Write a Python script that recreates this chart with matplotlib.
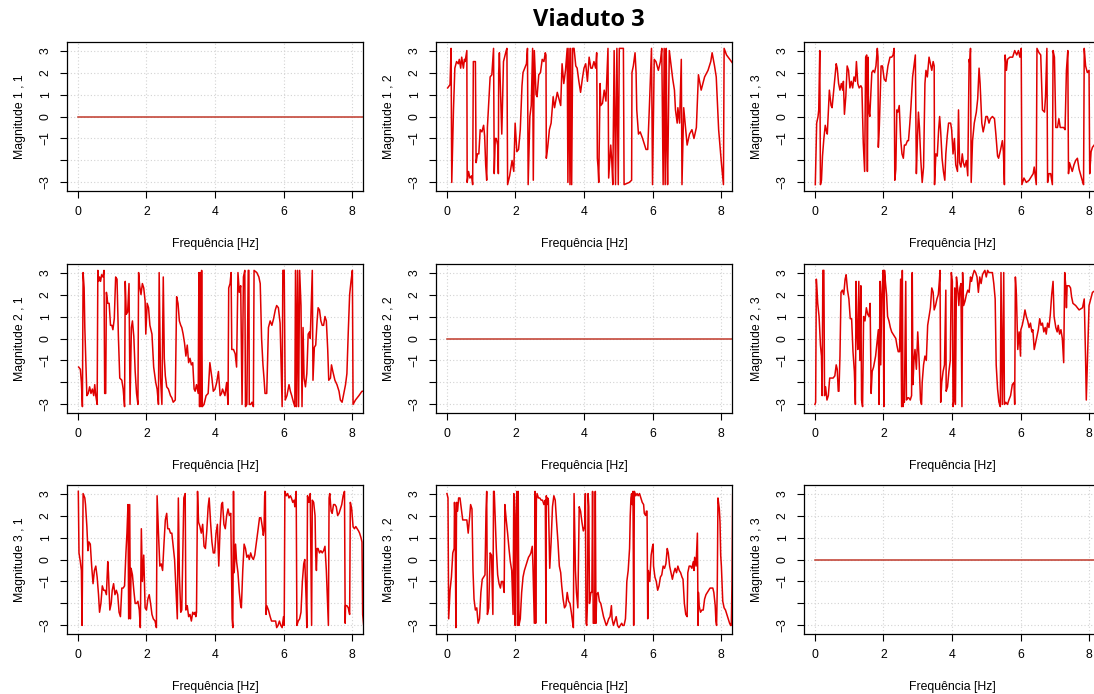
import matplotlib
matplotlib.use("Agg")
import matplotlib.pyplot as plt

plt.rcParams['font.family'] = ['Liberation Sans', 'DejaVu Sans']

title = "Viaduto 3"
xlabel = "Frequência [Hz]"
xticks = [0, 2, 4, 6, 8]
yticks = [-3, -2, -1, 0, 1, 2, 3]
ytick_labels = ["−3", "", "−1", "0", "1", "2", "3"]

# diagonal panels: constant zero phase
f_zero = [0.0, 8.4]
p_zero = [0.0, 0.0]

# panel 1,2
f12 = [0.02, 0.09, 0.12, 0.14, 0.19, 0.23, 0.28, 0.33, 0.36, 0.40, 0.43, 0.48, 0.51, 0.53, 0.58, 0.59,
       0.63, 0.67, 0.72, 0.75, 0.77, 0.83, 0.85, 0.89, 0.93, 0.97, 1.02, 1.07, 1.10, 1.13, 1.16, 1.18,
       1.26, 1.31, 1.36, 1.38, 1.41, 1.44, 1.48, 1.50, 1.51, 1.53, 1.60, 1.65, 1.73, 1.75, 1.77, 1.83,
       1.87, 1.90, 1.95, 1.99, 2.01, 2.04, 2.09, 2.14, 2.19, 2.22, 2.27, 2.32, 2.35, 2.37, 2.42, 2.46,
       2.50, 2.52, 2.55, 2.60, 2.63, 2.68, 2.73, 2.78, 2.83, 2.87, 2.89, 2.90, 2.94, 2.99, 3.04, 3.10,
       3.14, 3.22, 3.32, 3.36, 3.41, 3.46, 3.51, 3.53, 3.56, 3.59, 3.61, 3.64, 3.67, 3.71, 3.76, 3.80,
       3.85, 3.90, 3.95, 4.00, 4.05, 4.10, 4.15, 4.20, 4.24, 4.29, 4.34, 4.37, 4.39, 4.41, 4.43, 4.47,
       4.49, 4.54, 4.59, 4.64, 4.70, 4.72, 4.78, 4.81, 4.84, 4.88, 4.92, 4.96, 5.00, 5.03, 5.15, 5.17,
       5.32, 5.39, 5.40, 5.44, 5.49, 5.52, 5.54, 5.59, 5.64, 5.71, 5.81, 5.86, 5.91, 5.97, 6.00, 6.05,
       6.10, 6.17, 6.23, 6.27, 6.31, 6.34, 6.37, 6.40, 6.42, 6.44, 6.49, 6.59, 6.64, 6.67, 6.72, 6.74,
       6.79, 6.84, 6.86, 6.91, 7.01, 7.08, 7.15, 7.21, 7.28, 7.34, 7.42, 7.52, 7.62, 7.70, 7.74, 7.81,
       7.86, 7.93, 8.01, 8.07, 8.09, 8.16, 8.30, 8.35]
p12 = [1.3, 1.45, 3.1, -3.0, 0.3, 2.2, 2.5, 2.4, 2.6, 2.2, 2.7, 2.2, 2.6, 2.5, 3.0, -3.0,
       -2.5, -2.8, -2.7, -3.1, 2.5, 2.5, -2.1, -1.7, -1.7, -0.6, -0.7, -0.4, -0.9, -2.2, -2.9, -0.5,
       1.8, 1.9, 3.1, -2.6, -1.0, -1.0, -1.3, -2.6, 2.0, 2.9, -0.8, 2.5, 3.0, 3.1, -3.1, -2.7,
       -2.3, -2.0, -2.5, -0.3, -0.8, -1.6, -1.5, -0.6, 1.4, 2.0, 2.2, 2.4, 3.1, -3.1, 0.0, 0.5,
       3.1, -2.9, 3.0, 1.0, 0.9, 1.9, 2.0, 2.6, 2.5, 2.9, 2.8, -1.9, -1.4, -0.6, -0.3, 0.9,
       0.4, 1.1, 0.5, 2.4, 1.5, 2.1, 3.1, -3.0, 3.1, -3.1, 3.1, -3.1, 3.1, 3.1, 2.3, 2.2,
       1.6, 1.1, 1.7, 2.2, 2.4, 1.6, 2.7, 2.2, 2.2, 2.5, 2.2, 2.9, -1.9, -2.3, -3.0, 1.5,
       0.5, 0.6, 1.2, 0.7, 3.1, -2.8, -1.3, -2.0, -3.1, 3.0, -3.1, 3.1, -3.1, 3.1, 3.1, -3.1,
       -3.0, -2.9, 2.0, 2.3, 2.9, 2.0, 0.3, -0.8, -0.7, -1.0, -1.5, -1.5, 0.5, 3.1, -3.1, 2.6,
       2.5, 2.1, 2.5, 3.1, -3.1, 3.1, -3.1, 3.1, -1.3, -3.1, 3.0, 1.7, 1.2, 0.3, -0.3, 0.4,
       -0.3, 2.6, -3.1, 0.4, -1.3, -0.8, -0.6, -1.0, -0.5, 1.9, 1.2, 1.8, 2.1, 2.5, 2.9, 2.3,
       1.8, -0.6, -2.1, -3.1, 3.1, 2.8, 2.5, 2.4]

# panel 1,3
f13 = [0.01, 0.05, 0.09, 0.11, 0.14, 0.16, 0.19, 0.22, 0.26, 0.30, 0.34, 0.36, 0.39, 0.42, 0.47, 0.50,
       0.53, 0.57, 0.62, 0.65, 0.69, 0.73, 0.77, 0.81, 0.83, 0.86, 0.90, 0.94, 0.98, 1.02, 1.06, 1.10,
       1.14, 1.18, 1.21, 1.25, 1.29, 1.34, 1.37, 1.41, 1.45, 1.48, 1.51, 1.53, 1.55, 1.56, 1.58, 1.60,
       1.63, 1.66, 1.70, 1.74, 1.78, 1.82, 1.84, 1.85, 1.88, 1.93, 1.97, 2.02, 2.07, 2.13, 2.19, 2.24,
       2.28, 2.31, 2.33, 2.36, 2.39, 2.42, 2.46, 2.50, 2.54, 2.58, 2.61, 2.65, 2.70, 2.73, 2.77, 2.80,
       2.85, 2.93, 2.96, 2.99, 3.02, 3.05, 3.09, 3.13, 3.17, 3.21, 3.24, 3.28, 3.33, 3.37, 3.41, 3.45,
       3.48, 3.49, 3.53, 3.57, 3.61, 3.64, 3.67, 3.71, 3.75, 3.79, 3.82, 3.86, 3.90, 3.96, 3.99, 4.03,
       4.07, 4.11, 4.16, 4.19, 4.22, 4.26, 4.30, 4.33, 4.37, 4.42, 4.46, 4.50, 4.52, 4.54, 4.56, 4.60,
       4.65, 4.71, 4.75, 4.79, 4.82, 4.87, 4.91, 4.95, 4.99, 5.03, 5.08, 5.12, 5.18, 5.24, 5.28, 5.33,
       5.36, 5.42, 5.47, 5.50, 5.53, 5.55, 5.59, 5.62, 5.69, 5.77, 5.83, 5.89, 5.94, 5.98, 6.02, 6.04,
       6.10, 6.17, 6.25, 6.33, 6.37, 6.40, 6.46, 6.48, 6.54, 6.59, 6.64, 6.70, 6.73, 6.77, 6.79, 6.83,
       6.88, 6.93, 6.95, 6.99, 7.03, 7.08, 7.12, 7.16, 7.22, 7.26, 7.30, 7.34, 7.38, 7.40, 7.43, 7.47,
       7.51, 7.56, 7.61, 7.66, 7.71, 7.80, 7.84, 7.86, 7.90, 7.95, 8.00, 8.02, 8.06, 8.10, 8.20, 8.35]
p13 = [-3.1, -0.3, 0.0, 0.3, 3.0, -3.1, -2.9, -1.8, -1.0, -0.4, -0.7, -0.8, 0.2, 1.2, 0.5, 0.4,
       0.9, 1.6, 2.4, 2.2, 1.5, 1.2, 1.5, 1.2, 1.6, 0.1, 0.9, 2.3, 2.1, 1.3, 1.6, 1.3,
       1.8, 1.6, 2.5, 1.5, 1.3, 1.4, 1.3, -1.2, -2.5, 2.7, 2.8, -2.5, 2.7, 0.8, 0.2, 0.0,
       1.0, 2.0, 2.1, 2.0, 2.3, 3.1, 2.7, -1.4, -0.4, 2.3, 2.3, 1.7, 1.6, 2.3, 2.7, 2.7,
       2.8, 3.1, -2.9, -2.4, 0.3, 0.2, 0.5, -1.0, -1.7, -1.9, -1.3, -1.3, -1.1, -1.1, -0.3, 0.4,
       1.8, 2.8, -2.6, -1.1, 0.2, -0.5, -2.0, -3.0, -2.3, 1.5, 2.1, 1.8, 2.7, 2.4, 2.1, 2.5,
       2.3, -3.1, -1.7, -1.8, -0.6, 0.0, -0.7, -1.9, -2.5, -2.9, -1.7, -0.9, -0.3, -0.3, -0.6, -1.7,
       -1.0, -2.2, -2.5, 0.3, -2.1, -2.3, -1.7, -2.1, -2.3, -2.0, -2.7, 2.6, 2.4, 3.1, -3.0, -1.1,
       -0.3, 0.2, 0.8, 2.2, 1.5, -0.3, -0.7, -0.4, 0.0, 0.0, -0.3, -0.1, 0.0, -0.1, -0.8, -1.8,
       -1.9, -1.5, -1.1, -1.6, -3.1, 2.8, 2.1, 2.6, 2.7, 2.7, 3.0, 2.8, 3.0, 2.7, 3.1, -3.1,
       -2.8, -3.0, -2.9, -2.7, -2.6, -2.3, -3.1, 3.1, 2.9, 2.8, 0.3, 0.2, 0.9, 3.1, -3.0, -2.6,
       -2.6, -3.1, 3.0, 2.7, -0.5, -0.5, -0.1, -0.5, -0.5, -0.5, -0.6, 2.1, 3.0, -2.6, -2.1, -2.3,
       -2.5, -2.2, -2.0, -1.9, -2.4, -2.9, -3.1, 3.1, 2.3, 2.0, 2.1, -2.6, -1.6, -1.4, -1.2, -1.0]

# panel 2,1
f21 = [0.02, 0.07, 0.10, 0.13, 0.15, 0.18, 0.20, 0.23, 0.26, 0.30, 0.34, 0.38, 0.42, 0.46, 0.49, 0.52,
       0.56, 0.58, 0.60, 0.63, 0.66, 0.69, 0.73, 0.76, 0.78, 0.81, 0.83, 0.87, 0.91, 0.95, 0.99, 1.02,
       1.06, 1.10, 1.14, 1.18, 1.22, 1.28, 1.32, 1.36, 1.38, 1.41, 1.45, 1.49, 1.52, 1.56, 1.59, 1.63,
       1.67, 1.71, 1.75, 1.77, 1.80, 1.84, 1.88, 1.92, 1.96, 1.98, 2.02, 2.06, 2.10, 2.16, 2.21, 2.27,
       2.31, 2.35, 2.37, 2.41, 2.45, 2.49, 2.52, 2.55, 2.59, 2.64, 2.70, 2.74, 2.78, 2.84, 2.88, 2.92,
       2.96, 3.00, 3.03, 3.07, 3.11, 3.15, 3.19, 3.23, 3.27, 3.31, 3.35, 3.39, 3.42, 3.46, 3.51, 3.53,
       3.55, 3.57, 3.59, 3.61, 3.63, 3.68, 3.74, 3.80, 3.85, 3.91, 3.95, 4.00, 4.05, 4.10, 4.15, 4.19,
       4.22, 4.29, 4.34, 4.38, 4.40, 4.44, 4.47, 4.49, 4.54, 4.59, 4.63, 4.67, 4.71, 4.75, 4.79, 4.83,
       4.87, 4.89, 4.93, 4.97, 4.99, 5.00, 5.04, 5.08, 5.12, 5.14, 5.22, 5.28, 5.32, 5.36, 5.40, 5.43,
       5.46, 5.51, 5.56, 5.61, 5.66, 5.71, 5.76, 5.80, 5.85, 5.90, 5.93, 5.96, 5.98, 6.02, 6.05, 6.10,
       6.16, 6.20, 6.24, 6.29, 6.33, 6.35, 6.38, 6.41, 6.44, 6.47, 6.51, 6.54, 6.57, 6.60, 6.64, 6.68,
       6.72, 6.76, 6.78, 6.84, 6.86, 6.90, 6.94, 6.98, 7.01, 7.05, 7.09, 7.13, 7.17, 7.21, 7.25, 7.29,
       7.32, 7.37, 7.40, 7.44, 7.50, 7.56, 7.62, 7.66, 7.71, 7.76, 7.81, 7.85, 7.89, 7.93, 7.97, 8.01,
       8.03, 8.10, 8.20, 8.29, 8.36]
p21 = [-1.3, -1.4, -2.0, -3.1, 3.0, 2.3, 0.5, -1.0, -2.6, -2.5, -2.2, -2.5, -2.3, -2.6, -2.1, -2.6,
       -3.0, 3.1, 2.6, 2.8, 2.6, 2.9, 2.8, 3.1, -2.5, -2.5, 2.1, 1.6, 1.6, 0.6, 0.6, 0.4,
       0.9, 2.8, 2.7, 0.1, -1.8, -1.9, -2.3, -3.1, 2.6, 1.1, 1.2, 2.5, -3.0, 0.5, 0.8, 0.1,
       -1.5, -2.5, -3.0, 3.0, 2.4, 2.0, 2.5, 2.3, 1.7, 0.2, 1.6, 1.4, 0.6, 0.2, -1.3, -2.0,
       -2.3, -3.0, 3.0, -1.8, -3.0, 2.8, -0.9, -1.7, -2.2, -2.3, -2.6, -2.7, -2.9, -2.8, 1.9, 1.6,
       0.8, 0.6, 0.5, 0.2, -0.2, -0.8, -0.3, -1.1, -0.9, -1.2, -1.1, -2.3, -2.4, -2.1, -2.5, 3.0,
       -3.1, 3.0, -3.1, 3.1, -3.1, -3.0, -2.6, -2.5, -1.1, -1.8, -2.4, -2.3, -2.0, -1.5, -2.6, -2.5,
       -2.3, -2.6, -2.0, -3.0, 2.3, 2.5, 3.0, -0.5, -0.5, -0.7, -1.3, 3.0, 2.1, 2.4, -3.0, 2.8,
       3.1, -3.1, -3.0, 3.1, 3.1, -3.0, -3.0, -2.9, -3.1, 3.1, 3.0, 2.8, 2.5, 0.0, -1.2, -1.8,
       -2.5, -2.5, 0.5, 0.8, 0.6, 0.9, 1.3, 1.5, 1.4, 0.7, -1.3, -3.1, 3.1, 3.1, -2.8, -2.6,
       -2.1, -2.4, -2.6, -2.9, -3.1, 3.1, -3.1, 3.1, -3.1, 3.1, 1.5, -3.1, 0.5, -1.8, -2.2, -1.6,
       0.2, 0.3, 0.0, 3.1, -1.9, -0.4, -0.3, 0.8, 1.4, 1.3, 0.8, 0.6, 0.6, 1.0, 0.8, -0.5,
       -1.9, -1.8, -1.2, -1.5, -1.9, -2.1, -2.4, -2.8, -2.9, -2.5, -2.1, -1.6, 0.3, 2.0, 2.6, 3.1,
       -3.0, -2.8, -2.6, -2.4, -2.4]

# panel 2,3
f23 = [0.00, 0.02, 0.04, 0.06, 0.08, 0.12, 0.16, 0.19, 0.21, 0.23, 0.26, 0.28, 0.31, 0.35, 0.39, 0.43,
       0.47, 0.53, 0.58, 0.62, 0.65, 0.68, 0.70, 0.73, 0.76, 0.80, 0.84, 0.88, 0.91, 0.95, 0.99, 1.03,
       1.07, 1.11, 1.15, 1.18, 1.20, 1.22, 1.25, 1.28, 1.31, 1.34, 1.36, 1.39, 1.42, 1.46, 1.50, 1.54,
       1.58, 1.61, 1.64, 1.67, 1.71, 1.77, 1.81, 1.85, 1.87, 1.90, 1.92, 1.95, 1.97, 1.99, 2.01, 2.03,
       2.06, 2.09, 2.12, 2.16, 2.20, 2.24, 2.28, 2.32, 2.36, 2.39, 2.43, 2.47, 2.50, 2.53, 2.55, 2.57,
       2.59, 2.61, 2.65, 2.67, 2.71, 2.74, 2.78, 2.82, 2.84, 2.86, 2.89, 2.92, 2.96, 3.00, 3.04, 3.08,
       3.11, 3.13, 3.17, 3.21, 3.25, 3.29, 3.33, 3.37, 3.41, 3.45, 3.48, 3.52, 3.56, 3.60, 3.63, 3.65,
       3.67, 3.70, 3.74, 3.78, 3.82, 3.83, 3.87, 3.91, 3.95, 3.98, 4.01, 4.03, 4.06, 4.08, 4.10, 4.13,
       4.17, 4.20, 4.23, 4.26, 4.29, 4.31, 4.34, 4.38, 4.42, 4.46, 4.50, 4.54, 4.57, 4.61, 4.65, 4.69,
       4.73, 4.77, 4.81, 4.85, 4.89, 4.92, 4.96, 5.00, 5.04, 5.08, 5.13, 5.18, 5.22, 5.26, 5.29, 5.33,
       5.37, 5.41, 5.43, 5.47, 5.51, 5.53, 5.57, 5.62, 5.66, 5.71, 5.76, 5.81, 5.83, 5.85, 5.88, 5.92,
       5.96, 6.00, 6.01, 6.05, 6.09, 6.13, 6.17, 6.21, 6.25, 6.29, 6.33, 6.36, 6.40, 6.44, 6.48, 6.52,
       6.56, 6.60, 6.64, 6.68, 6.72, 6.75, 6.79, 6.83, 6.87, 6.91, 6.95, 6.98, 7.03, 7.07, 7.10, 7.14,
       7.18, 7.22, 7.26, 7.29, 7.32, 7.34, 7.36, 7.42, 7.46, 7.49, 7.53, 7.61, 7.71, 7.81, 7.86, 7.90,
       7.92, 8.00, 8.05, 8.10, 8.20, 8.35]
p23 = [-3.0, -2.9, 2.7, 2.2, 1.6, 1.0, -0.3, -0.8, -2.6, 3.1, 3.1, -2.6, -2.2, -2.8, -2.6, -1.8,
       -1.8, -1.8, -1.7, -1.2, -1.4, -2.4, -2.4, -0.8, 2.1, 2.2, 2.0, 2.7, 2.9, 2.2, 1.8, 0.9,
       0.9, -0.6, -1.5, -3.0, 2.6, 0.6, -0.5, 2.6, -1.0, 2.4, -2.8, -3.1, 1.0, 0.8, 1.4, 1.1,
       1.0, 1.6, -2.5, -1.5, -1.3, -0.8, -0.2, 0.4, -3.0, 2.6, -1.2, 2.0, 2.5, 3.1, -3.1, 3.1,
       2.5, 2.0, 1.0, 0.8, 0.5, 0.3, 0.2, 0.1, 0.0, -0.3, -0.6, -0.6, 2.7, -3.1, 3.1, -3.1,
       -2.8, -2.9, 2.6, -2.8, -2.7, -2.7, -2.8, -2.6, 3.0, -2.1, -1.0, -0.5, -1.4, 0.3, -1.0, -2.8,
       -3.0, -2.0, -1.2, -0.8, -1.0, 0.6, 1.0, 1.4, 2.3, 2.1, 1.3, 1.5, 1.8, 2.0, 2.6, 3.1,
       -2.9, -2.0, -1.5, -1.2, 2.2, -2.4, -2.2, -1.5, -1.0, 3.0, 2.6, -3.1, -2.8, 2.3, -3.0, 2.8,
       2.2, 1.5, 2.3, 2.5, -3.1, 3.0, 1.5, 1.7, 2.0, 2.2, 2.1, 2.8, 2.6, 2.9, 3.1, 3.0,
       2.8, 2.1, 2.8, 2.5, 2.9, 3.0, 3.1, 2.8, 3.1, 3.0, 3.0, 3.0, 2.5, 1.8, -1.2, -2.3,
       -2.9, -3.1, 3.0, -3.0, 3.0, -3.0, -2.9, -3.0, -2.8, -2.6, -2.1, -2.0, -3.0, 2.8, 2.0, -0.5,
       0.3, -0.8, 0.4, 0.6, 0.9, 1.3, 1.0, 0.8, 0.5, 0.7, 0.3, 0.4, -0.5, -0.2, 0.1, 0.4,
       0.9, 0.6, 0.7, 0.3, 0.5, 0.2, 0.7, 0.5, 1.1, 2.0, 2.6, 1.0, 0.5, 0.3, 0.6, 0.2,
       0.4, 0.0, -1.1, 3.0, 2.4, 1.4, 2.4, 2.4, 2.3, 1.9, 1.6, 1.5, 1.3, 1.4, 1.8, -1.0,
       -2.8, 1.5, 1.8, 2.1, 2.2, 2.0]

# panel 3,1
f31 = [0.01, 0.03, 0.07, 0.10, 0.12, 0.15, 0.20, 0.22, 0.26, 0.29, 0.32, 0.36, 0.40, 0.44, 0.48, 0.52,
       0.56, 0.60, 0.63, 0.67, 0.71, 0.75, 0.79, 0.83, 0.87, 0.89, 0.93, 0.97, 1.00, 1.04, 1.08, 1.12,
       1.16, 1.20, 1.24, 1.28, 1.32, 1.36, 1.40, 1.43, 1.46, 1.48, 1.51, 1.53, 1.55, 1.59, 1.63, 1.67,
       1.71, 1.75, 1.79, 1.82, 1.85, 1.88, 1.92, 1.96, 2.00, 2.04, 2.08, 2.12, 2.16, 2.20, 2.25, 2.29,
       2.31, 2.35, 2.39, 2.43, 2.47, 2.51, 2.55, 2.59, 2.62, 2.66, 2.70, 2.74, 2.78, 2.82, 2.86, 2.90,
       2.93, 2.96, 3.00, 3.03, 3.07, 3.09, 3.13, 3.15, 3.19, 3.23, 3.27, 3.31, 3.35, 3.39, 3.42, 3.44,
       3.46, 3.49, 3.52, 3.56, 3.60, 3.64, 3.68, 3.72, 3.76, 3.80, 3.83, 3.87, 3.91, 3.95, 3.99, 4.03,
       4.07, 4.11, 4.15, 4.19, 4.22, 4.26, 4.30, 4.34, 4.38, 4.42, 4.46, 4.50, 4.52, 4.54, 4.56, 4.60,
       4.63, 4.67, 4.71, 4.75, 4.77, 4.81, 4.85, 4.89, 4.93, 4.97, 5.00, 5.04, 5.08, 5.12, 5.16, 5.22,
       5.26, 5.30, 5.34, 5.38, 5.41, 5.43, 5.45, 5.47, 5.49, 5.51, 5.56, 5.61, 5.65, 5.71, 5.77, 5.80,
       5.84, 5.88, 5.92, 5.96, 6.00, 6.02, 6.04, 6.08, 6.12, 6.16, 6.20, 6.23, 6.27, 6.31, 6.33, 6.37,
       6.39, 6.43, 6.47, 6.51, 6.55, 6.59, 6.62, 6.66, 6.68, 6.70, 6.74, 6.78, 6.82, 6.84, 6.88, 6.92,
       6.94, 6.96, 6.98, 7.01, 7.05, 7.09, 7.13, 7.17, 7.21, 7.25, 7.29, 7.31, 7.33, 7.35, 7.39, 7.42,
       7.46, 7.50, 7.54, 7.58, 7.62, 7.66, 7.70, 7.74, 7.78, 7.80, 7.81, 7.85, 7.89, 7.93, 7.95, 7.99,
       8.03, 8.07, 8.11, 8.15, 8.19, 8.22, 8.26, 8.29, 8.31, 8.34]
p31 = [3.1, 0.3, -0.1, -0.5, -3.0, 3.0, 2.8, 2.5, 1.5, 0.4, 0.8, 0.7, -0.3, -1.1, -0.5, -0.3,
       -0.8, -1.6, -2.4, -2.0, -1.2, -1.4, -1.4, -1.6, -0.1, -0.6, -2.3, -2.0, -1.4, -1.1, -1.6, -1.4,
       -1.6, -2.4, -2.6, -1.3, -1.3, -1.2, 0.3, 1.2, 2.5, -2.7, 2.5, -2.7, -0.4, -0.7, -1.4, -2.0,
       -2.0, -1.9, -2.3, -3.1, 1.4, -1.0, 0.2, -2.2, -2.3, -1.8, -1.6, -2.0, -2.5, -2.7, -2.8, -3.1,
       2.9, 1.2, -0.3, -0.2, -0.5, 0.7, 1.8, 2.1, 1.4, 1.4, 1.2, 1.2, 0.6, 0.0, -1.3, -2.7,
       2.8, -0.7, -2.4, -2.3, 1.0, 2.8, 3.0, -2.3, -2.1, -2.6, -2.5, -2.8, -2.4, -2.5, -2.4, -2.6,
       -2.4, 3.1, 1.7, 1.5, 1.2, 1.6, 0.6, 0.5, 1.3, 2.4, 2.8, 1.7, 0.8, 0.3, 0.3, 1.2,
       1.6, -0.3, 1.5, 2.5, 2.6, 1.6, 1.4, 2.0, 2.3, 2.0, 2.1, -2.7, -3.1, 3.1, -0.6, 0.7,
       -0.1, -0.6, -1.5, -2.1, -2.2, -0.5, 0.7, 0.5, 0.1, 0.2, 0.0, 0.3, 0.1, 0.0, 0.2, 0.9,
       1.4, 1.9, 1.9, 1.5, 1.1, 1.3, 2.9, 3.1, -2.5, -2.1, -2.3, -2.6, -2.8, -2.8, -2.8, -3.1,
       -3.0, -2.8, -3.0, -3.1, -2.6, -3.0, 3.1, 2.9, 3.0, 2.8, 2.9, 2.8, 2.6, 2.7, 2.4, 3.1,
       -3.0, -2.8, -2.7, -2.4, -1.0, -0.2, 0.0, -1.8, -3.1, 2.9, 2.6, 3.0, -3.0, 2.7, 2.6, 2.0,
       0.2, -0.5, 0.5, 0.5, 0.3, 0.4, 0.3, 0.4, 0.6, -0.5, -2.2, -3.0, 2.8, 3.0, 2.2, 2.1,
       2.5, 2.5, 2.4, 2.0, 2.1, 2.3, 2.5, 2.9, 3.1, -2.9, -2.1, -2.1, -2.2, -2.5, 2.6, 2.3,
       1.5, 1.4, 1.5, 1.4, 1.3, 1.2, 1.0, 0.8, -2.5, -3.0]

# panel 3,2
f32 = [0.00, 0.03, 0.05, 0.09, 0.13, 0.17, 0.21, 0.22, 0.24, 0.26, 0.28, 0.31, 0.34, 0.38, 0.42, 0.46,
       0.50, 0.54, 0.58, 0.62, 0.66, 0.69, 0.73, 0.76, 0.79, 0.83, 0.87, 0.91, 0.95, 0.99, 1.03, 1.07,
       1.11, 1.14, 1.16, 1.18, 1.22, 1.26, 1.30, 1.34, 1.36, 1.38, 1.40, 1.44, 1.48, 1.52, 1.56, 1.59,
       1.63, 1.67, 1.69, 1.73, 1.77, 1.81, 1.85, 1.89, 1.93, 1.95, 1.97, 1.99, 2.01, 2.04, 2.06, 2.08,
       2.10, 2.14, 2.18, 2.22, 2.26, 2.30, 2.34, 2.38, 2.42, 2.45, 2.49, 2.51, 2.55, 2.57, 2.59, 2.61,
       2.63, 2.67, 2.71, 2.75, 2.79, 2.83, 2.87, 2.89, 2.90, 2.92, 2.94, 2.96, 3.00, 3.04, 3.08, 3.12,
       3.16, 3.20, 3.24, 3.28, 3.32, 3.35, 3.39, 3.43, 3.47, 3.51, 3.55, 3.59, 3.63, 3.67, 3.69, 3.71,
       3.75, 3.78, 3.82, 3.86, 3.90, 3.94, 3.98, 4.02, 4.04, 4.06, 4.08, 4.10, 4.12, 4.14, 4.16, 4.20,
       4.23, 4.25, 4.27, 4.31, 4.33, 4.35, 4.37, 4.41, 4.45, 4.49, 4.53, 4.57, 4.61, 4.65, 4.68, 4.72,
       4.76, 4.80, 4.82, 4.86, 4.90, 4.94, 4.98, 5.02, 5.06, 5.10, 5.13, 5.17, 5.21, 5.23, 5.25, 5.29,
       5.33, 5.35, 5.37, 5.39, 5.41, 5.43, 5.45, 5.47, 5.51, 5.55, 5.58, 5.62, 5.66, 5.70, 5.74, 5.76,
       5.80, 5.82, 5.84, 5.86, 5.88, 5.92, 5.96, 6.00, 6.02, 6.03, 6.07, 6.11, 6.15, 6.19, 6.23, 6.27,
       6.31, 6.35, 6.39, 6.43, 6.46, 6.50, 6.54, 6.58, 6.62, 6.66, 6.70, 6.74, 6.78, 6.82, 6.86, 6.89,
       6.93, 6.97, 7.01, 7.03, 7.07, 7.11, 7.15, 7.19, 7.21, 7.23, 7.27, 7.31, 7.33, 7.34, 7.36, 7.40,
       7.44, 7.48, 7.52, 7.56, 7.60, 7.64, 7.68, 7.72, 7.76, 7.79, 7.83, 7.85, 7.87, 7.89, 7.91, 7.95,
       7.97, 7.99, 8.01, 8.05, 8.09, 8.13, 8.17, 8.21, 8.25, 8.28, 8.30, 8.32, 8.34, 8.36]
p32 = [3.0, 2.8, -2.7, -1.4, -0.8, 0.3, 0.5, 2.6, 1.6, -3.1, 2.6, 2.2, 2.8, 2.8, 2.3, 1.8,
       1.8, 1.8, 1.8, 1.2, 1.9, 2.5, 2.3, -0.5, -1.8, -2.3, -2.2, -2.9, -2.7, -1.5, -0.9, -0.8,
       -0.7, 2.2, 3.1, -2.5, -2.2, 0.3, 0.2, -2.5, 3.1, 3.1, 2.2, 0.5, -0.7, -1.1, -1.3, -1.0,
       -1.0, -1.5, 2.5, 1.8, 1.2, 0.5, -0.1, -0.5, -2.5, 3.0, -0.6, -3.0, 2.0, 3.1, -3.0, 3.1,
       -3.0, -2.7, -1.5, -0.8, -0.5, -0.3, -0.1, 0.1, 0.2, 0.3, 0.6, -0.3, -2.9, 3.1, -2.9, 2.7,
       3.0, 2.8, 2.8, 2.7, 2.7, 2.5, 2.7, -2.9, 2.9, 2.5, 2.8, 2.7, -0.4, 0.8, 2.4, 2.9,
       2.7, 1.7, 0.8, -0.3, -0.6, -1.2, -1.8, -2.2, -2.1, -1.5, -1.9, -2.0, -2.4, -2.9, -3.1, 3.0,
       -0.5, -1.5, -2.2, 2.4, 2.2, 1.7, 1.3, 1.5, 3.0, -2.9, -3.0, -2.0, 3.0, 2.4, -2.0, -1.5,
       -1.5, 3.1, -2.9, -2.9, 3.1, -2.9, -1.6, -1.5, -1.9, -2.0, -2.3, -2.6, -2.8, -3.0, -2.9, -2.7,
       -2.6, -2.1, -2.7, -3.0, -2.8, -2.6, -3.0, -3.1, -3.0, -2.9, -3.0, -3.0, -2.7, -2.0, -1.0, -0.5,
       0.5, 2.0, 2.8, 3.0, 2.5, 3.1, -3.0, 3.1, 2.9, 3.0, 2.9, 3.0, 2.8, 2.6, 2.5, 2.1,
       2.0, 2.2, 2.2, -2.7, -0.5, -1.0, 0.2, 0.6, 0.7, -0.3, -0.8, -1.0, -1.4, -1.2, -0.8, -0.7,
       -0.3, -0.4, -0.2, 0.5, 0.3, -0.3, -0.6, -0.9, -0.6, -0.4, -0.6, -0.3, -0.5, -0.6, -0.8, -0.9,
       -2.0, -2.5, -2.6, -0.6, -0.3, -0.3, -0.4, -0.1, -0.5, 0.1, -0.3, 1.2, -3.0, -1.5, -2.1, -2.4,
       -2.3, -2.3, -1.8, -1.6, -1.5, -1.4, -1.3, -1.3, -1.3, -1.5, -2.1, -2.8, -3.0, -1.3, 2.8, 2.3,
       1.7, 0.2, -0.3, -1.9, -2.2, -2.3, -2.5, -2.7, -2.9, -3.0, -3.0, -1.0, 3.0, 3.0]

panels = [
    [(f_zero, p_zero), (f12, p12), (f13, p13)],
    [(f21, p21), (f_zero, p_zero), (f23, p23)],
    [(f31, p31), (f32, p32), (f_zero, p_zero)],
]

W, H = 1094, 694
fig = plt.figure(figsize=(W / 100, H / 100), dpi=100)

col_left = [67, 436, 804]
row_top = [42, 264, 485]
ax_w, ax_h = 296, 149

for i in range(3):
    for j in range(3):
        freq, phase = panels[i][j]
        ax = fig.add_axes([col_left[j] / W, 1 - (row_top[i] + ax_h) / H, ax_w / W, ax_h / H])
        if freq is f_zero:
            ax.plot(freq, phase, color='#c0392b', lw=1.1)
        else:
            ax.plot(freq, phase, color='#e00000', lw=1.1)
        ax.set_xlim(-0.32, 8.32)
        ax.set_ylim(-3.39, 3.39)
        ax.set_xticks(xticks)
        ax.set_yticks(yticks)
        ax.set_yticklabels(ytick_labels, rotation=90, va='center')
        ax.grid(True, color='#d3d3d3', linestyle=(0, (1, 2)), linewidth=0.8)
        ax.tick_params(direction='out', length=5, width=0.8, labelsize=8.8, pad=6, colors='black')
        for s in ax.spines.values():
            s.set_linewidth(0.9)
        ax.set_xlabel(xlabel, fontsize=8.8, labelpad=14)
        ax.set_ylabel(f"Magnitude {i + 1} , {j + 1}", fontsize=8.8, labelpad=10)

fig.text(589 / W, 1 - 20 / H, title, ha='center', va='center',
         fontsize=17, fontweight='bold', family=['Open Sans', 'DejaVu Sans'])

fig.savefig("out.png", dpi=100)
